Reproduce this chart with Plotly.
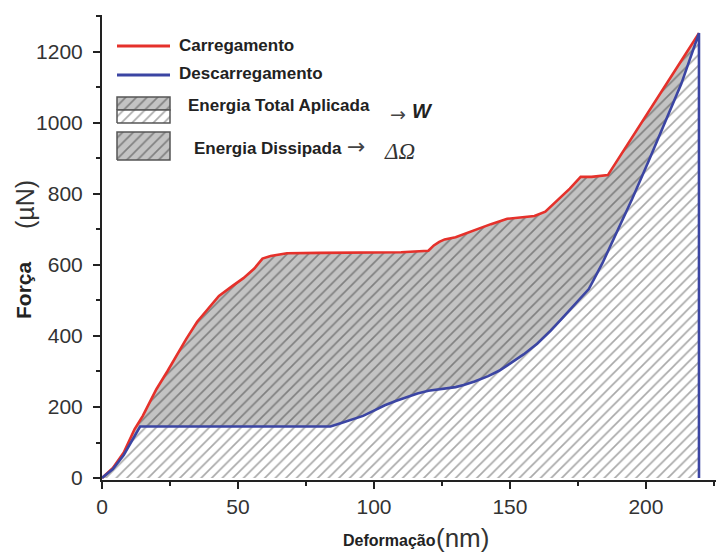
import plotly.graph_objects as go

# ---- data ----
load_x = [0, 4, 8, 12, 15, 20, 24, 28, 31, 35, 39, 43, 48, 52, 56, 59, 62, 68, 80, 96, 110,
          120, 122, 124, 126, 130, 137, 143, 149, 155, 159, 163, 168, 172, 176, 180, 186,
          191, 197, 203, 209, 214, 219.5]
load_y = [0, 28, 72, 138, 175, 250, 300, 355, 392, 440, 476, 513, 541, 563, 590, 618, 625, 633, 634, 636, 636,
          640, 655, 665, 672, 678, 698, 715, 730, 735, 738, 750, 785, 815, 848, 848, 853,
          912, 985, 1055, 1127, 1187, 1253]

unload_x = [0, 4, 8, 11, 14, 50, 84, 88, 92, 96, 100, 104, 108, 112, 116, 120, 125, 130, 133, 137,
            142, 146, 150, 155, 160, 165, 169, 174, 179, 184, 189, 195, 201, 207, 213, 219.5, 219.5]
unload_y = [0, 25, 65, 105, 145, 145, 145, 155, 165, 175, 190, 205, 217, 228, 238, 246, 251, 256, 262, 272,
            287, 302, 322, 348, 378, 415, 448, 490, 532, 605, 688, 787, 893, 1000, 1110, 1253, 0]

x_ticks = [0, 50, 100, 150, 200]
y_ticks = [0, 200, 400, 600, 800, 1000, 1200]

FONT = "Liberation Sans, Arial, sans-serif"
RED = "#e5312b"
BLUE = "#3b45a3"
GRAY_BG = "#c3c3c3"
GRAY_FG = "#808080"
WHITE_FG = "#a9a9a9"

# page body has an 8px margin: figure is sized/offset to compensate
OFF = 8

fig = go.Figure()

# region under unloading curve (white hatched)
fig.add_trace(go.Scatter(
    x=unload_x, y=unload_y, mode="lines", fill="toself", line=dict(width=0),
    fillcolor="white",
    fillpattern=dict(shape="/", bgcolor="white", fgcolor=WHITE_FG, size=7.5, solidity=0.22, fillmode="replace"),
    hoverinfo="skip", showlegend=False))

# region between loading and unloading (gray hatched)
poly_x = load_x + unload_x[-2::-1]
poly_y = load_y + unload_y[-2::-1]
fig.add_trace(go.Scatter(
    x=poly_x, y=poly_y, mode="lines", fill="toself", line=dict(width=0),
    fillcolor=GRAY_BG,
    fillpattern=dict(shape="/", bgcolor=GRAY_BG, fgcolor=GRAY_FG, size=7.5, solidity=0.22, fillmode="replace"),
    hoverinfo="skip", showlegend=False))

fig.add_trace(go.Scatter(x=load_x, y=load_y, mode="lines", line=dict(color=RED, width=2.6),
                         showlegend=False))
fig.add_trace(go.Scatter(x=unload_x, y=unload_y, mode="lines", line=dict(color=BLUE, width=2.6),
                         showlegend=False))

# ---- legend swatches (on an overlay 0..1 axis pair) ----
def px2x(px):
    return (px - 102) / 622.0

def py2y(py):
    return (480 - py) / 465.0

def box(x0, x1, y0, y1):
    return [x0, x1, x1, x0, x0], [y0, y0, y1, y1, y0]

bx0, bx1 = px2x(117), px2x(170)
for (ya, yb, bg, fg) in [(py2y(110), py2y(97), GRAY_BG, GRAY_FG), (py2y(123), py2y(110), "white", WHITE_FG)]:
    xs, ys = box(bx0, bx1, ya, yb)
    fig.add_trace(go.Scatter(x=xs, y=ys, xaxis="x3", yaxis="y3", mode="lines", fill="toself",
                             fillcolor=bg, line=dict(color="#555555", width=1.5),
                             fillpattern=dict(shape="/", bgcolor=bg, fgcolor=fg, size=7.5, solidity=0.22,
                                              fillmode="replace"),
                             hoverinfo="skip", showlegend=False))
xs, ys = box(bx0, bx1, py2y(160), py2y(132))
fig.add_trace(go.Scatter(x=xs, y=ys, xaxis="x3", yaxis="y3", mode="lines", fill="toself",
                         fillcolor=GRAY_BG, line=dict(color="#555555", width=1.5),
                         fillpattern=dict(shape="/", bgcolor=GRAY_BG, fgcolor=GRAY_FG, size=7.5, solidity=0.22,
                                          fillmode="replace"),
                         hoverinfo="skip", showlegend=False))

shapes = [
    dict(type="line", xref="paper", yref="paper", x0=bx0, x1=bx1, y0=py2y(46), y1=py2y(46),
         line=dict(color=RED, width=3)),
    dict(type="line", xref="paper", yref="paper", x0=bx0, x1=bx1, y0=py2y(75), y1=py2y(75),
         line=dict(color=BLUE, width=3)),
]

ann = []
def text(t, px, py, size, bold=False, xanchor="left", family=FONT, color="#222222", angle=0):
    ann.append(dict(text=(f"<b>{t}</b>" if bold else t), x=px2x(px), y=py2y(py), xref="paper", yref="paper",
                    xanchor=xanchor, yanchor="middle", showarrow=False, textangle=angle,
                    font=dict(size=size, family=family, color=color)))

ARROW_FONT = "DejaVu Sans, sans-serif"
text("Carregamento", 177, 46, 17, bold=True)
text("Descarregamento", 177, 74, 17, bold=True)
text("Energia Total Aplicada", 186, 106, 17, bold=True)
text("→", 388, 114, 19, family=ARROW_FONT, color="#444444")
text("<i>W</i>", 410, 111, 20, bold=True)
text("Energia Dissipada", 192, 148, 17, bold=True)
text("→", 345, 147, 22, family=ARROW_FONT, color="#444444")
text("<i>ΔΩ</i>", 382, 151, 23, family="Liberation Serif, DejaVu Serif, serif", color="#333333")

# axis titles
text("Deformação", 389, 540, 16, bold=True, xanchor="center")
text("(nm)", 462, 538, 26, xanchor="center", color="#333333")
text("Força", 24, 290, 21, bold=True, xanchor="center", angle=-90)
text("(µN)", 25, 205, 25, xanchor="center", color="#333333", angle=-90)

XR = [0, 228.7]
YR = [-5.6, 1304]

fig.update_layout(
    width=724 - OFF, height=552 - OFF,
    margin=dict(l=102 - OFF, r=0, t=15 - OFF, b=72),
    paper_bgcolor="white", plot_bgcolor="rgba(0,0,0,0)",
    font=dict(family=FONT, color="#333333"),
    showlegend=False,
    shapes=shapes, annotations=ann,
    xaxis=dict(range=XR, tickvals=x_ticks, ticktext=[str(v) for v in x_ticks],
               ticks="outside", ticklen=7, tickwidth=1.5, tickcolor="#222",
               minor=dict(ticks="outside", ticklen=4, tickwidth=1.5, tickcolor="#222", dtick=25, tick0=0),
               showline=True, linewidth=2, linecolor="#222", showgrid=False, zeroline=False,
               tickfont=dict(size=21, color="#333333")),
    yaxis=dict(range=YR, tickvals=y_ticks, ticktext=[str(v) for v in y_ticks],
               ticks="outside", ticklen=7, tickwidth=1.5, tickcolor="#222", ticklabelstandoff=6,
               minor=dict(ticks="outside", ticklen=4, tickwidth=1.5, tickcolor="#222", dtick=100, tick0=0),
               showline=True, linewidth=2, linecolor="#222", showgrid=False, zeroline=False,
               tickfont=dict(size=21, color="#333333")),
    xaxis2=dict(overlaying="x", side="top", range=XR, tickvals=x_ticks, ticks="inside", ticklen=8,
                tickwidth=1.8, tickcolor="#333",
                minor=dict(ticks="inside", ticklen=5, tickwidth=1.5, tickcolor="#333", dtick=25, tick0=0),
                showticklabels=False, showline=True, linewidth=2.2, linecolor="#444", showgrid=False,
                zeroline=False),
    yaxis2=dict(overlaying="y", side="right", range=YR, tickvals=y_ticks, ticks="inside", ticklen=7,
                tickwidth=1.8, tickcolor="#333",
                minor=dict(ticks="inside", ticklen=3, tickwidth=1.2, tickcolor="#555", dtick=100, tick0=0),
                showticklabels=False, showline=False, showgrid=False, zeroline=False),
    xaxis3=dict(overlaying="x", range=[0, 1], visible=False, fixedrange=True),
    yaxis3=dict(overlaying="y", range=[0, 1], visible=False, fixedrange=True),
)

fig.write_html("out.html")
